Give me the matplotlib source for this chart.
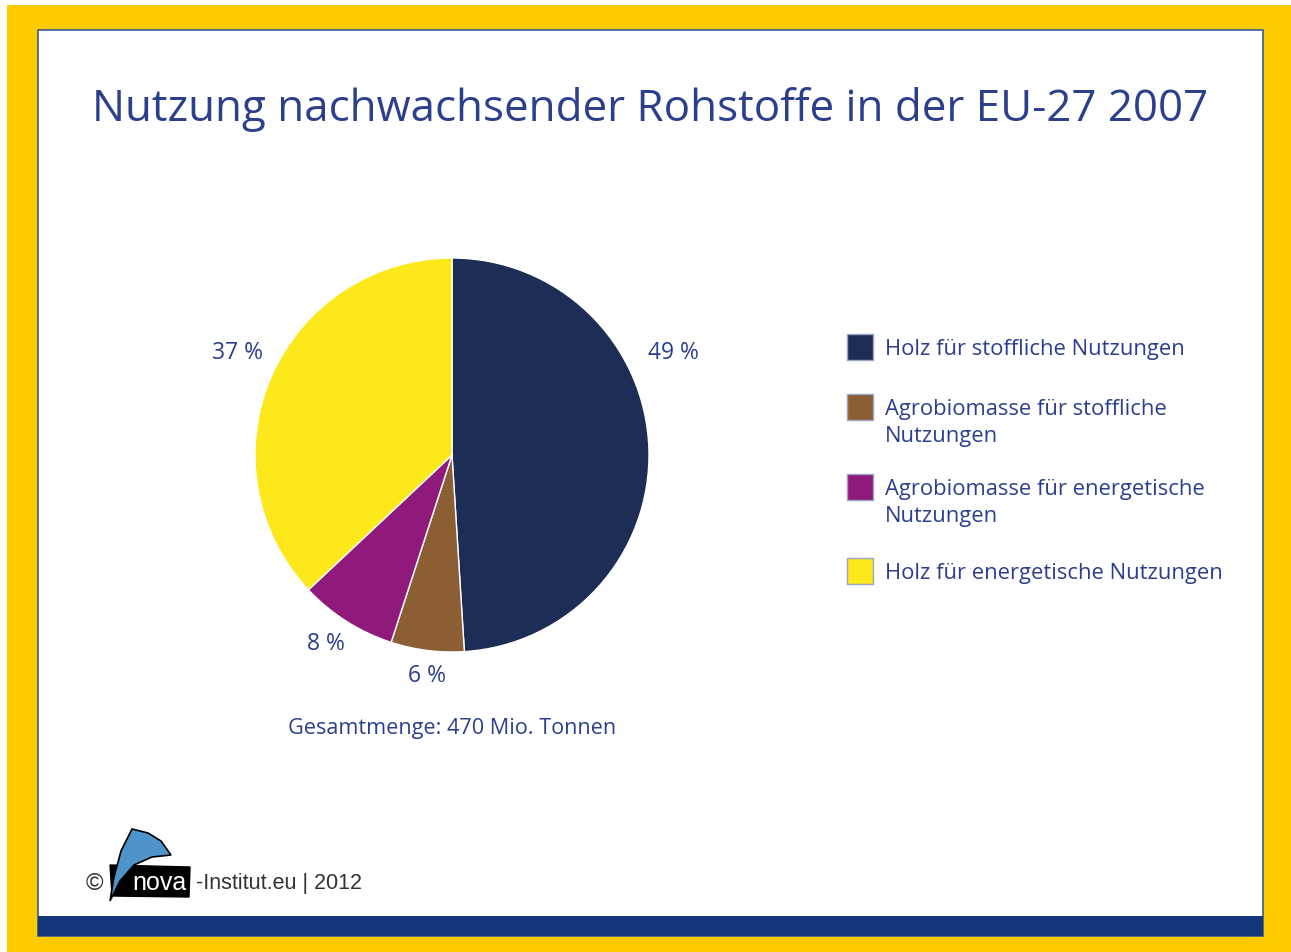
import matplotlib.pyplot as plt
from matplotlib.patches import Rectangle, Polygon

# ---------------------------------------------------------------------------
# Data
# ---------------------------------------------------------------------------
categories = [
    "Holz für stoffliche Nutzungen",
    "Agrobiomasse für stoffliche\nNutzungen",
    "Agrobiomasse für energetische\nNutzungen",
    "Holz für energetische Nutzungen",
]
shares = [49, 6, 8, 37]
colors = ["#1e2d56", "#8b5e34", "#901a7b", "#fde91b"]

TEXT_BLUE = "#2b3f8c"
FONT = ["Open Sans", "DejaVu Sans"]
SANS = ["Liberation Sans", "DejaVu Sans"]

W, H = 1291, 953
fig = plt.figure(figsize=(W / 100, H / 100), dpi=100)
fig.patch.set_facecolor("white")

# overlay axes in pixel coordinates for the frame and texts
bg = fig.add_axes([0, 0, 1, 1])
bg.set_xlim(0, W)
bg.set_ylim(H, 0)
bg.axis("off")

# yellow frame, white panel, blue bottom bar
bg.add_patch(Rectangle((7, 6), 1284, 947, facecolor="#fdcb00", edgecolor="none"))
bg.add_patch(Rectangle((38, 31), 1225, 906, facecolor="white",
                       edgecolor="#3c5a96", linewidth=1.2))
bg.add_patch(Rectangle((38, 917), 1225, 20, facecolor="#14367a", edgecolor="none"))

# title
bg.text(650, 110, "Nutzung nachwachsender Rohstoffe in der EU-27 2007",
        ha="center", va="center", fontsize=31.6, color=TEXT_BLUE, family=FONT)

# ---------------------------------------------------------------------------
# Pie
# ---------------------------------------------------------------------------
cx, cy, r = 452, 456, 197
ax = fig.add_axes([(cx - r) / W, 1 - (cy + r) / H, 2 * r / W, 2 * r / H])
ax.pie(shares, colors=colors, startangle=90, counterclock=False,
       wedgeprops=dict(edgecolor="white", linewidth=1.0))
ax.set_xlim(-1, 1)
ax.set_ylim(-1, 1)
ax.set_aspect("auto")
ax.axis("off")

label_pos = [(673, 353), (427, 676), (326, 644), (238, 353)]
for (x, y), s in zip(label_pos, shares):
    bg.text(x, y, f"{s} %", ha="center", va="center", fontsize=16.5,
            color=TEXT_BLUE, family=FONT)

bg.text(452, 729, "Gesamtmenge: 470 Mio. Tonnen", ha="center", va="center",
        fontsize=15.6, color=TEXT_BLUE, family=FONT)

# ---------------------------------------------------------------------------
# Legend
# ---------------------------------------------------------------------------
legend_y = [348, 408, 488, 572]
for y, lab, col in zip(legend_y, categories, colors):
    bg.add_patch(Rectangle((847, y - 13), 26, 26, facecolor=col,
                           edgecolor="#9aa6c4", linewidth=1))
    bg.text(885, y - 9, lab, ha="left", va="top", fontsize=15.8,
            color=TEXT_BLUE, family=FONT, linespacing=1.35)

# ---------------------------------------------------------------------------
# Logo / copyright
# ---------------------------------------------------------------------------
bg.text(94, 884, "©", ha="center", va="center", fontsize=17, color="#333333",
        family=SANS)
bg.add_patch(Polygon([(110, 866), (190, 868), (189, 898), (112, 897)],
                     closed=True, facecolor="black", edgecolor="black"))
sail = [(110, 902), (114, 878), (121, 852), (132, 830), (148, 834),
        (161, 842), (171, 856), (152, 858), (134, 866), (120, 882)]
bg.add_patch(Polygon(sail, closed=True, facecolor="#4f93cb",
                     edgecolor="black", linewidth=1.2))
bg.text(159, 883, "nova", ha="center", va="center", fontsize=18,
        color="white", family=SANS)
bg.text(196, 884, "-Institut.eu | 2012", ha="left", va="center", fontsize=15.5,
        color="#333333", family=SANS)

fig.savefig("out.png", dpi=100)
